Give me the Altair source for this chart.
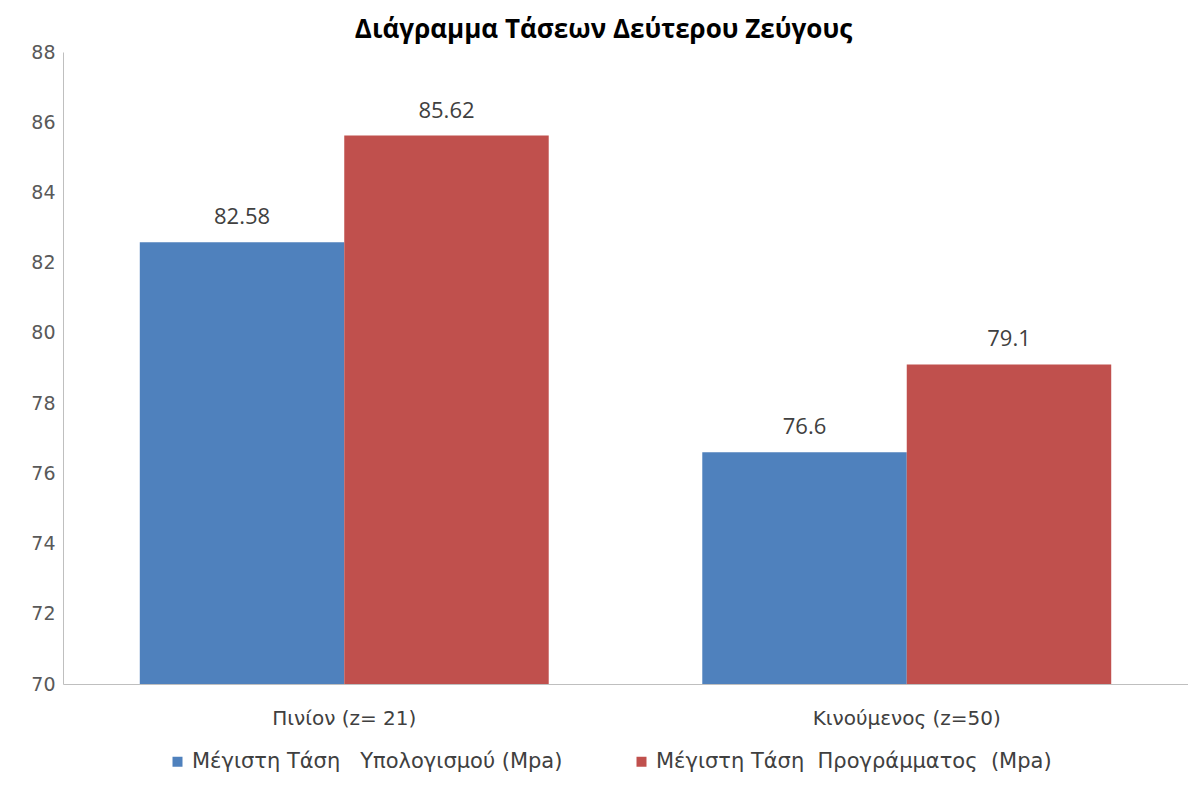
import altair as alt
import pandas as pd

categories = ["Πινίον (z= 21)", "Κινούμενος (z=50)"]
series = ["Μέγιστη Τάση\u00a0\u00a0\u00a0Υπολογισμού (Mpa)", "Μέγιστη Τάση\u00a0\u00a0Προγράμματος\u00a0\u00a0(Mpa)"]
calc_values = [82.58, 76.6]
prog_values = [85.62, 79.1]
label_calc = ["82.58", "76.6"]
label_prog = ["85.62", "79.1"]
y_ticks = [70, 72, 74, 76, 78, 80, 82, 84, 86, 88]
colors = ["#4F81BD", "#C0504D"]

rows = []
for i, c in enumerate(categories):
    rows.append({"category": c, "series": series[0], "value": calc_values[i], "label": label_calc[i]})
    rows.append({"category": c, "series": series[1], "value": prog_values[i], "label": label_prog[i]})
df = pd.DataFrame(rows)

x_enc = alt.X("category:N", sort=categories,
              scale=alt.Scale(paddingInner=0.273, paddingOuter=0.1365),
              axis=alt.Axis(title=None, labelAngle=0, ticks=False, domainColor="#bfbfbf",
                            labelFontSize=20, labelColor="#404040", labelFont="DejaVu Sans",
                            labelPadding=24, labelLimit=500))
xo_enc = alt.XOffset("series:N", sort=series)
y_scale = alt.Scale(domain=[70, 88], nice=False, zero=False)

bars = alt.Chart(df).mark_bar().encode(
    x=x_enc,
    xOffset=xo_enc,
    y=alt.Y("value:Q", scale=y_scale,
            axis=alt.Axis(title=None, values=y_ticks, ticks=False, grid=False,
                          domainColor="#bfbfbf", labelFontSize=19, labelColor="#595959",
                          labelFont="DejaVu Sans", labelPadding=8)),
    y2=alt.datum(70),
    color=alt.Color("series:N", sort=series,
                    scale=alt.Scale(domain=series, range=colors),
                    legend=alt.Legend(title=None, orient="none", direction="horizontal",
                                      legendX=104, legendY=699, symbolType="square",
                                      symbolSize=100, labelFontSize=21, labelFont="DejaVu Sans",
                                      labelColor="#404040", columnPadding=68,
                                      symbolStrokeWidth=0, labelLimit=600)),
)

text = alt.Chart(df).mark_text(dy=-13, fontSize=22, font="Open Sans", color="#404040",
                                baseline="bottom").encode(
    x=alt.X("category:N", sort=categories),
    xOffset=xo_enc,
    y=alt.Y("value:Q", scale=y_scale),
    text="label:N",
)

chart = (bars + text).properties(
    width=1125,
    height=632,
    title=alt.TitleParams("Διάγραμμα Τάσεων Δεύτερου Ζεύγους", fontSize=26, font="Open Sans",
                          fontWeight="bold", color="#000000", offset=6, dx=-22, dy=6),
    autosize=alt.AutoSizeParams(type="none"),
    padding={"left": 55, "top": 44, "right": 0, "bottom": 88},
).configure_view(strokeWidth=0)

chart.save("out.html", embed_options={"renderer": "svg", "actions": False})
